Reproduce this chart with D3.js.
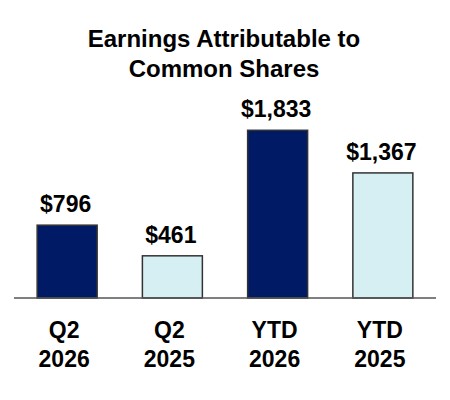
<!DOCTYPE html>
<html>
<head>
<meta charset="utf-8">
<script src="https://cdn.jsdelivr.net/npm/d3@7"></script>
<style>
  body { margin: 0; background: #fff; }
  text { font-family: "Liberation Sans", Arial, sans-serif; font-weight: bold; fill: #000; }
</style>
</head>
<body>
<svg id="chart" width="450" height="400"></svg>
<script>
// chart data
var categories = ["Q2 2026", "Q2 2025", "YTD 2026", "YTD 2025"];
var values = [796, 461, 1833, 1367];
var valueLabels = ["$796", "$461", "$1,833", "$1,367"];
var titleLines = ["Earnings Attributable to", "Common Shares"];

var svg = d3.select("#chart");

var baseY = 298;

var x = d3.scaleBand()
  .domain(categories)
  .range([14, 436])
  .paddingInner(0.43)
  .paddingOuter(0.22);

var y = d3.scaleLinear()
  .domain([0, 2000])
  .range([baseY, baseY - 183]);

var fills = ["#001a66", "#d5eff3", "#001a66", "#d5eff3"];

// title
svg.append("text")
  .attr("text-anchor", "middle")
  .style("font-size", "24px")
  .selectAll("tspan")
  .data(titleLines)
  .enter()
  .append("tspan")
  .attr("x", 224)
  .attr("y", function (d, i) { return 47 + i * 29.5; })
  .text(function (d) { return d; });

// bars
svg.selectAll("rect.bar")
  .data(values)
  .enter()
  .append("rect")
  .attr("class", "bar")
  .attr("x", function (d, i) { return x(categories[i]); })
  .attr("y", function (d) { return y(d); })
  .attr("width", x.bandwidth())
  .attr("height", function (d) { return baseY - y(d); })
  .style("fill", function (d, i) { return fills[i]; })
  .style("stroke", "#333")
  .style("stroke-width", 1.5);

// value labels
svg.selectAll("text.value")
  .data(values)
  .enter()
  .append("text")
  .attr("class", "value")
  .attr("text-anchor", "middle")
  .attr("x", function (d, i) { return x(categories[i]) + x.bandwidth() / 2 - 1.5; })
  .attr("y", function (d) { return y(d) - 13; })
  .style("font-size", "23px")
  .text(function (d, i) { return valueLabels[i]; });

// baseline
svg.append("line")
  .attr("x1", 14)
  .attr("x2", 436)
  .attr("y1", baseY)
  .attr("y2", baseY)
  .style("stroke", "#555")
  .style("stroke-width", 1.5);

// category labels, two lines each
var cats = svg.selectAll("text.cat")
  .data(categories)
  .enter()
  .append("text")
  .attr("class", "cat")
  .attr("text-anchor", "middle")
  .style("font-size", "23px");

cats.selectAll("tspan")
  .data(function (d) {
    var c = x(d) + x.bandwidth() / 2 - 3;
    return d.split(" ").map(function (w) { return { w: w, c: c }; });
  })
  .enter()
  .append("tspan")
  .attr("x", function (d) { return d.c; })
  .attr("y", function (d, i) { return 338 + i * 28.5; })
  .text(function (d) { return d.w; });
</script>
</body>
</html>
